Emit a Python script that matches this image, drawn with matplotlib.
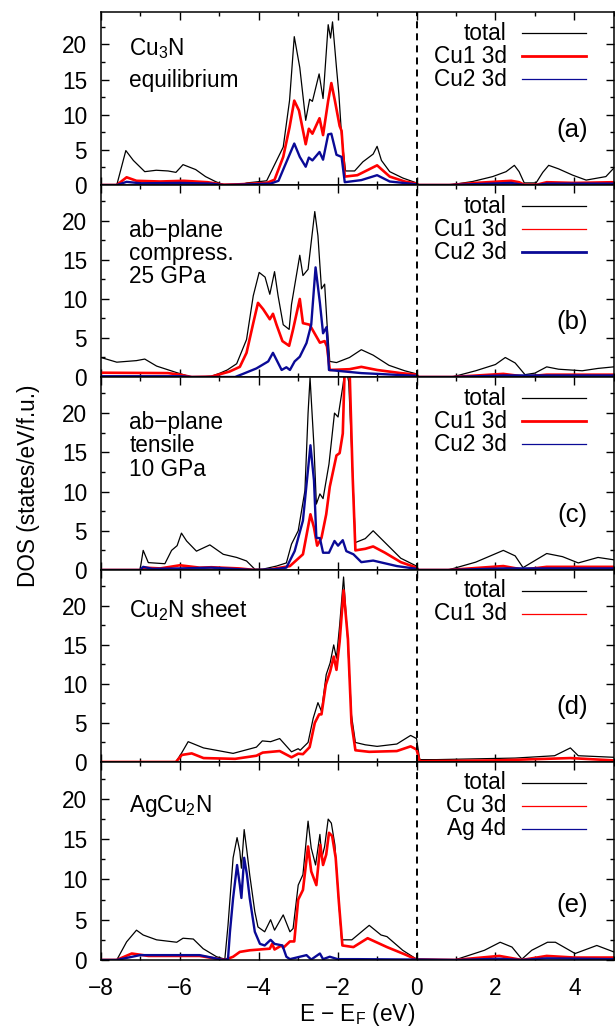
"""Projected d-band DOS for Cu3N under strain, the Cu2N sheet and AgCu2N."""

import matplotlib
matplotlib.use('Agg')
import matplotlib.pyplot as plt
from matplotlib.lines import Line2D
from matplotlib.ticker import MultipleLocator
from matplotlib.transforms import offset_copy

plt.rcParams['font.family'] = ['Liberation Sans', 'DejaVu Sans']
plt.rcParams['mathtext.default'] = 'regular'

# (E - E_F in eV, DOS in states/eV/f.u.)
A_TOTAL = [(-8, 0), (-7.6, 0), (-7.37, 4.9), (-7.18, 3.5), (-6.89, 1.9), (-6.6, 2.1), (-6.3, 2.0),
           (-6.1, 1.8), (-5.92, 2.9), (-5.6, 2.2), (-5.35, 1.2), (-5.1, 0.5), (-4.95, 0.15),
           (-4.82, 0), (-4.48, 0), (-4.3, 0.3), (-3.8, 0.6), (-3.59, 3.0), (-3.38, 5.4),
           (-3.22, 12), (-3.1, 21.1), (-2.96, 16.7), (-2.81, 9.2), (-2.71, 12.2), (-2.64, 11.9),
           (-2.47, 15.8), (-2.37, 12.3), (-2.24, 22.8), (-2.18, 20.9), (-2.13, 23.2),
           (-2.03, 16.7), (-1.97, 13.0), (-1.9, 7.0), (-1.8, 2.0), (-1.57, 2.0), (-1.36, 3.3),
           (-1.1, 4.4), (-1.0, 5.5), (-0.89, 3.5), (-0.68, 1.9), (-0.35, 1.0), (0, 0.3),
           (0.05, 0), (0.84, 0), (1.42, 0.5), (1.93, 1.2), (2.27, 1.9), (2.48, 2.8), (2.6, 1.9),
           (2.73, 0.3), (3.03, 0.3), (3.2, 1.8), (3.35, 2.8), (3.6, 2.3), (3.96, 1.4),
           (4.3, 0.7), (4.8, 1.2), (5.0, 2.4)]
A_CU1 = [(-8, 0), (-7.6, 0), (-7.35, 1.1), (-7.1, 0.6), (-6.5, 0.5), (-5.9, 0.6), (-5.3, 0.4),
         (-4.9, 0.05), (-4.5, 0.1), (-3.8, 0.3), (-3.6, 0.75), (-3.38, 4.0), (-3.22, 8.2),
         (-3.1, 12), (-2.98, 10.6), (-2.81, 5.8), (-2.73, 8), (-2.64, 7.3), (-2.46, 9.5),
         (-2.37, 7.1), (-2.24, 12.0), (-2.16, 14.5), (-2.07, 12), (-1.95, 8.4), (-1.9, 7.7),
         (-1.82, 1.2), (-1.5, 1.4), (-1.0, 2.8), (-0.68, 1.2), (-0.3, 0.5), (0, 0.2),
         (0.05, 0), (0.84, 0), (1.5, 0.3), (2.4, 0.6), (2.6, 0.4), (2.73, 0.05), (3.05, 0.05),
         (3.3, 0.4), (4.0, 0.3), (5.0, 0.4)]
A_CU2 = [(-8, 0), (-7.6, 0), (-7.35, 0.45), (-7.0, 0.25), (-6.0, 0.3), (-5.2, 0.2), (-4.9, 0),
         (-4.5, 0.05), (-3.7, 0.2), (-3.5, 0.6), (-3.35, 2.6), (-3.1, 5.9), (-2.96, 4.0),
         (-2.81, 2.6), (-2.73, 3.9), (-2.64, 3.5), (-2.46, 4.7), (-2.37, 3.6), (-2.24, 7.2),
         (-2.16, 7.3), (-2.03, 4.3), (-1.9, 4.0), (-1.82, 0.4), (-1.4, 0.7), (-1.0, 1.4),
         (-0.68, 0.5), (0, 0.1), (0.05, 0), (0.84, 0), (2.4, 0.3), (2.73, 0), (3.05, 0),
         (3.3, 0.2), (5.0, 0.2)]

B_TOTAL = [(-8, 2.5), (-7.6, 1.9), (-7.1, 2.1), (-6.89, 2.3), (-6.59, 1.4), (-6.08, 0.56),
           (-5.75, 0.05), (-5.5, 0), (-5.2, 0.1), (-4.98, 0.5), (-4.8, 0.9), (-4.56, 1.7),
           (-4.31, 4.8), (-4.14, 10.4), (-3.99, 13.4), (-3.84, 12.8), (-3.72, 10.6),
           (-3.6, 13.5), (-3.51, 10.4), (-3.38, 6.7), (-3.23, 6.1), (-3.17, 9.3), (-2.96, 15.6),
           (-2.88, 13.0), (-2.75, 13.8), (-2.67, 17.3), (-2.58, 21.2), (-2.5, 18.1),
           (-2.41, 11.3), (-2.33, 11.9), (-2.27, 6.9), (-2.2, 2.0), (-2.03, 1.85), (-1.7, 2.5),
           (-1.4, 3.5), (-1.1, 2.8), (-0.7, 1.5), (-0.3, 0.8), (0, 0.4), (0.05, 0), (0.9, 0),
           (1.5, 0.8), (2.0, 1.6), (2.25, 2.5), (2.5, 1.8), (2.75, 0.3), (3.0, 0.5), (3.3, 1.3),
           (3.6, 1.0), (4.2, 0.8), (4.6, 1.1), (5.0, 1.3)]
B_CU1 = [(-8, 0.55), (-6.3, 0.5), (-6.0, 0.3), (-5.7, 0), (-5.2, 0.05), (-4.74, 0.7),
         (-4.48, 1.3), (-4.31, 3.1), (-4.14, 6.9), (-4.02, 9.5), (-3.89, 8.7), (-3.72, 7.4),
         (-3.64, 8.1), (-3.55, 6.7), (-3.4, 4.6), (-3.23, 4.0), (-3.13, 6.1), (-2.96, 10.0),
         (-2.88, 6.9), (-2.71, 6.7), (-2.62, 5.9), (-2.45, 4.4), (-2.33, 4.6), (-2.27, 3.9),
         (-2.2, 0.9), (-1.7, 1.0), (-1.4, 1.3), (-1.0, 0.9), (-0.4, 0.5), (0, 0.3), (0.05, 0),
         (0.9, 0), (2.2, 0.4), (2.75, 0.05), (3.3, 0.3), (5, 0.3)]
B_CU2 = [(-8, 0.1), (-6, 0.1), (-5.7, 0), (-4.6, 0), (-4.4, 0.4), (-4.06, 1.1), (-3.76, 2.0),
         (-3.64, 3.1), (-3.55, 2.2), (-3.42, 0.9), (-3.3, 1.25), (-3.21, 0.9), (-3.09, 2.0),
         (-2.96, 2.6), (-2.79, 4.35), (-2.67, 6.7), (-2.56, 14.05), (-2.45, 9.5), (-2.37, 5.6),
         (-2.28, 6.4), (-2.22, 0.9), (-1.4, 0.5), (0, 0.15), (0.05, 0), (0.9, 0), (2.2, 0.2),
         (5, 0.2)]

C_TOTAL = [(-8, 0), (-7.01, 0), (-6.93, 2.5), (-6.8, 0.94), (-6.38, 0.8), (-6.21, 2.5),
           (-6.07, 3.1), (-5.96, 4.7), (-5.83, 3.7), (-5.58, 2.4), (-5.24, 3.2), (-4.9, 2.0),
           (-4.56, 1.6), (-4.31, 1.15), (-4.1, 0.1), (-3.9, 0.1), (-3.55, 0.5), (-3.3, 0.9),
           (-3.17, 3.3), (-3.0, 5.0), (-2.83, 10.1), (-2.75, 20), (-2.7, 24.5), (-2.6, 15.7),
           (-2.54, 8.4), (-2.45, 9.7), (-2.37, 9.1), (-2.22, 13.5), (-2.08, 20), (-1.99, 19.5),
           (-1.87, 23.4), (-1.8, 26), (-1.72, 24), (-1.65, 16), (-1.55, 3.5), (-1.3, 4.0),
           (-1.1, 5.0), (-0.8, 3.5), (-0.4, 1.5), (0, 0.5), (0.05, 0), (0.8, 0), (1.5, 1.0),
           (2.2, 2.5), (2.5, 1.8), (2.7, 0.3), (3.0, 1.2), (3.3, 2.1), (3.7, 1.7), (4.1, 0.9),
           (4.6, 1.6), (5.0, 1.3)]
C_CU1 = [(-8, 0), (-7.01, 0), (-6.9, 0.3), (-6.5, 0.2), (-6.0, 0.6), (-5.5, 0.3), (-5.2, 0.35),
         (-4.5, 0.2), (-4.1, 0), (-3.8, 0), (-3.21, 0.5), (-2.88, 2.0), (-2.69, 7.1),
         (-2.6, 5.4), (-2.52, 3.1), (-2.41, 4.1), (-2.29, 7.1), (-2.2, 10.6), (-2.03, 14.6),
         (-1.95, 14.9), (-1.87, 17.4), (-1.82, 26), (-1.7, 26), (-1.62, 12), (-1.55, 2.5),
         (-1.3, 2.7), (-1.1, 3.0), (-0.8, 2.2), (-0.4, 1.0), (0, 0.3), (0.05, 0), (0.8, 0),
         (2.2, 0.5), (2.7, 0.05), (3.3, 0.4), (5, 0.4)]
C_CU2 = [(-8, 0), (-7.01, 0), (-6.93, 0.4), (-6.7, 0.15), (-6.0, 0.2), (-5.2, 0.3), (-4.5, 0.1),
         (-4.1, 0), (-3.6, 0.1), (-3.3, 0.3), (-3.09, 2.4), (-2.88, 6.3), (-2.69, 15.9),
         (-2.6, 11.4), (-2.54, 4.1), (-2.45, 4.06), (-2.37, 2.2), (-2.22, 2.2), (-2.08, 3.7),
         (-1.99, 3.1), (-1.87, 3.8), (-1.78, 2.4), (-1.6, 2.0), (-1.4, 1.0), (-1.1, 1.2),
         (-0.5, 0.5), (0, 0.15), (0.05, 0), (0.8, 0), (2.2, 0.2), (5, 0.2)]

D_TOTAL = [(-8, 0), (-6.1, 0), (-5.95, 1.2), (-5.79, 2.6), (-5.4, 1.8), (-4.65, 1.1),
           (-4.06, 1.9), (-3.91, 2.7), (-3.7, 2.6), (-3.47, 3.0), (-3.17, 1.3), (-3.0, 1.7),
           (-2.95, 1.5), (-2.75, 2.5), (-2.62, 5.6), (-2.5, 7.6), (-2.41, 6.5), (-2.29, 11.2),
           (-2.19, 12.7), (-2.1, 15.0), (-2.03, 13.3), (-1.95, 17.5), (-1.85, 23.7),
           (-1.75, 16), (-1.65, 6), (-1.55, 2.5), (-1.3, 2.2), (-1.0, 2.0), (-0.5, 2.3),
           (-0.15, 3.4), (0, 3.0), (0.08, 0.3), (0.5, 0.3), (1.5, 0.4), (2.5, 0.5), (3.5, 0.8),
           (3.9, 1.8), (4.1, 0.8), (5, 0.6)]
D_CU1 = [(-8, 0), (-6.1, 0), (-5.95, 0.9), (-5.7, 1.1), (-5.4, 0.5), (-4.6, 0.4), (-4.06, 0.8),
         (-3.9, 1.2), (-3.47, 1.4), (-3.17, 0.6), (-3.0, 1.06), (-2.88, 1.0), (-2.71, 1.9),
         (-2.58, 5.0), (-2.47, 6.1), (-2.41, 6.1), (-2.3, 9.9), (-2.19, 11.6), (-2.1, 13.5),
         (-2.03, 11.8), (-1.95, 15.4), (-1.85, 22.0), (-1.74, 15.8), (-1.65, 5), (-1.55, 1.5),
         (-1.2, 1.3), (-0.5, 1.4), (-0.15, 2.0), (0, 1.6), (0.08, 0.1), (2, 0.2), (3.9, 0.5),
         (5, 0.2)]

E_TOTAL = [(-8, 0), (-7.6, 0), (-7.35, 2.25), (-7.1, 3.7), (-6.93, 3.1), (-6.59, 2.5),
           (-6.08, 2.2), (-5.92, 2.7), (-5.66, 2.6), (-5.41, 1.4), (-5.07, 0.4), (-4.86, 0.1),
           (-4.78, 4.3), (-4.65, 12.7), (-4.55, 15.2), (-4.48, 13.5), (-4.44, 11.4),
           (-4.37, 16.2), (-4.3, 13.5), (-4.23, 10.6), (-4.1, 6.0), (-4.02, 4.1), (-3.85, 3.5),
           (-3.7, 5.0), (-3.6, 3.7), (-3.38, 5.6), (-3.21, 3.5), (-3.13, 3.9), (-3.0, 9.3),
           (-2.88, 10.6), (-2.75, 17.25), (-2.67, 13.9), (-2.56, 11.8), (-2.45, 15.6),
           (-2.4, 12.7), (-2.33, 14.1), (-2.24, 17.5), (-2.16, 17.0), (-2.07, 14.3),
           (-1.99, 8.5), (-1.9, 2.5), (-1.64, 2.5), (-1.2, 4.3), (-0.9, 3.1), (-0.75, 2.9),
           (-0.35, 1.2), (0, 0.1), (0.97, 0), (1.72, 1.2), (2.12, 2.2), (2.42, 1.6),
           (2.67, 0.1), (2.92, 1.2), (3.32, 2.2), (3.52, 2.2), (4.02, 0.8), (4.57, 1.8),
           (5.0, 1.0)]
E_CU = [(-8, 0), (-7.6, 0), (-7.22, 0.8), (-6.8, 0.5), (-5.5, 0.5), (-5.0, 0.1), (-4.86, 0),
        (-4.65, 0.4), (-4.48, 1.0), (-4.23, 1.2), (-3.72, 1.4), (-3.66, 2.0), (-3.6, 1.3),
        (-3.42, 1.8), (-3.38, 1.5), (-3.21, 2.3), (-3.1, 2.3), (-3.0, 7.5), (-2.88, 8.7),
        (-2.75, 14.1), (-2.67, 11), (-2.54, 9.3), (-2.44, 14.3), (-2.37, 11.8), (-2.29, 13.1),
        (-2.22, 15.8), (-2.14, 15.4), (-2.05, 12.7), (-1.97, 7.25), (-1.88, 1.8), (-1.6, 1.6),
        (-1.24, 2.7), (-0.75, 1.6), (-0.3, 0.7), (0, 0.05), (0.97, 0), (2.1, 0.5), (2.67, 0),
        (3.3, 0.5), (4, 0.3), (5, 0.3)]
E_AG = [(-8, 0), (-7.6, 0), (-7.01, 0.6), (-5.5, 0.6), (-4.9, 0), (-4.78, 0.1), (-4.73, 3.5),
        (-4.65, 7.7), (-4.55, 11.8), (-4.48, 9.3), (-4.44, 7.7), (-4.37, 12.7), (-4.3, 10.6),
        (-4.23, 7.7), (-4.1, 3.5), (-3.97, 2.0), (-3.85, 1.8), (-3.7, 2.5), (-3.6, 2.0),
        (-3.4, 1.8), (-3.3, 0.4), (-3.21, 0.1), (-2.79, 0.6), (-2.67, 0.05), (-2.45, 0.8),
        (-2.37, 0.1), (-2.2, 0.4), (-2.0, 0.1), (-1.5, 0.1), (0, 0.05), (1, 0), (2.1, 0.15),
        (2.67, 0), (3.3, 0.2), (5, 0.1)]

BLACK = '#000000'
RED = '#ff0000'
BLUE = '#0a0a96'

# one entry per panel: curves, legend (label, colour, legend line width), caption lines, tag
PANELS = [
    {'curves': [(A_TOTAL, BLACK), (A_CU1, RED), (A_CU2, BLUE)],
     'legend': [('total', BLACK, 0.9), ('Cu1 3d', RED, 2.0), ('Cu2 3d', BLUE, 0.9)],
     'caption': [('Cu$_3$N', 0.751), ('equilibrium', 0.569)], 'tag': '(a)'},
    {'curves': [(B_TOTAL, BLACK), (B_CU1, RED), (B_CU2, BLUE)],
     'legend': [('total', BLACK, 0.9), ('Cu1 3d', RED, 0.9), ('Cu2 3d', BLUE, 2.0)],
     'caption': [('ab−plane', 0.731), ('compress.', 0.609), ('25 GPa', 0.491)], 'tag': '(b)'},
    {'curves': [(C_TOTAL, BLACK), (C_CU1, RED), (C_CU2, BLUE)],
     'legend': [('total', BLACK, 0.9), ('Cu1 3d', RED, 2.0), ('Cu2 3d', BLUE, 0.9)],
     'caption': [('ab−plane', 0.729), ('tensile', 0.613), ('10 GPa', 0.487)], 'tag': '(c)'},
    {'curves': [(D_TOTAL, BLACK), (D_CU1, RED)],
     'legend': [('total', BLACK, 0.9), ('Cu1 3d', RED, 0.9)],
     'caption': [('Cu$_2$N sheet', 0.757)], 'tag': '(d)'},
    {'curves': [(E_TOTAL, BLACK), (E_CU, RED), (E_AG, BLUE)],
     'legend': [('total', BLACK, 0.9), ('Cu 3d', RED, 0.9), ('Ag 4d', BLUE, 0.9)],
     'caption': [('AgCu$_2$N', 0.746)], 'tag': '(e)'},
]
LINE_WIDTH = {BLACK: 0.9, RED: 1.9, BLUE: 1.7}
FS = 16.3

fig, axes = plt.subplots(5, 1, figsize=(6.15, 10.29), dpi=100, sharex=True,
                         gridspec_kw={'height_ratios': [173, 192, 193, 192, 198]})
fig.subplots_adjust(left=0.1642, right=0.998, top=0.9883, bottom=0.0671, hspace=0)

for ax, panel in zip(axes, PANELS):
    for data, color in panel['curves']:
        xs = [p[0] for p in data]
        ys = [p[1] for p in data]
        ax.plot(xs, ys, color=color, lw=LINE_WIDTH[color], solid_joinstyle='round')
    ax.axvline(0, color='black', lw=1.4, ls=(0, (3.6, 2.6)))

    ax.set_xlim(-8, 5)
    ax.set_ylim(0, 24.6)
    ax.xaxis.set_major_locator(MultipleLocator(2))
    ax.xaxis.set_minor_locator(MultipleLocator(1))
    ax.yaxis.set_major_locator(MultipleLocator(5))
    ax.yaxis.set_minor_locator(MultipleLocator(2.5))
    ax.tick_params(which='both', direction='in', top=True, right=True, width=1.0,
                   labelsize=FS)
    ax.tick_params(which='major', length=5.8)
    ax.tick_params(which='minor', length=2.9)
    ax.tick_params(axis='y', pad=10)
    ax.tick_params(axis='x', pad=12)
    for sp in ax.spines.values():
        sp.set_linewidth(1.1)

    for text, yfrac in panel['caption']:
        ax.text(0.055, yfrac, text, transform=ax.transAxes, fontsize=FS,
                ha='left', va='baseline')

    # key drawn as right-aligned labels with a short line sample beside each
    for i, (label, color, lw) in enumerate(panel['legend']):
        dy = -(21 + 23 * i)
        tr = offset_copy(ax.transAxes, fig=fig, x=0, y=dy, units='dots')
        ax.text(0.791, 1.0, label, transform=tr, fontsize=FS, ha='right', va='center')
        ax.add_line(Line2D([0.822, 0.945], [1.0, 1.0], transform=tr, color=color, lw=lw))

    tr = offset_copy(ax.transAxes, fig=fig, x=-26, y=55, units='dots')
    ax.text(1.0, 0.0, panel['tag'], transform=tr, fontsize=18.5, ha='right', va='center')

for ax in axes[:-1]:
    ax.tick_params(labelbottom=False)

axes[-1].set_xlabel('E − E$_F$ (eV)', fontsize=FS, labelpad=1)
fig.text(0.047, 0.5277, 'DOS (states/eV/f.u.)', rotation=90, fontsize=FS,
         ha='center', va='center')

fig.savefig('out.png', dpi=100)
